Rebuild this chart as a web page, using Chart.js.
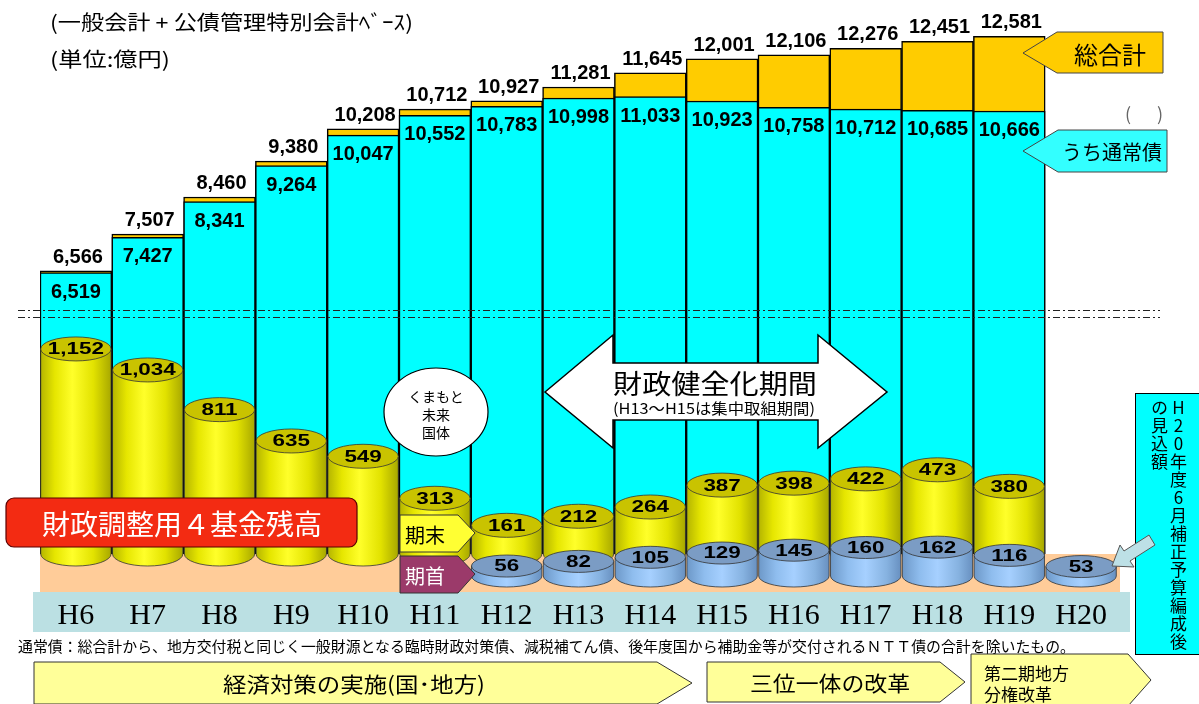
<!DOCTYPE html>
<html lang="ja">
<head>
<meta charset="utf-8">
<title>地方債残高と基金残高の推移</title>
<script src="https://cdn.jsdelivr.net/npm/chart.js@4.4.1/dist/chart.umd.min.js"></script>
<style>
  html, body { margin: 0; padding: 0; background: #fff; }
  #wrap { position: relative; width: 1199px; height: 704px; overflow: hidden; font-family: "Noto Sans CJK JP", sans-serif; }
  #chart, #overlay { position: absolute; left: 0; top: 0; }
  #vbox { position: absolute; left: 1135px; top: 393px; width: 70px; height: 262px; background: #00ffff; border: 1px solid #000; box-sizing: border-box; }
  #vtext { position: absolute; left: 1150px; top: 399px; width: 38px; height: 256px; writing-mode: vertical-rl; text-orientation: upright; font-size: 17px; line-height: 19px; letter-spacing: 1px; color: #000; }
</style>
</head>
<body>
<div id="wrap">
  <canvas id="chart" width="1199" height="704"></canvas>
  <div id="vbox"></div>
  <svg id="overlay" width="1199" height="704" font-family="Noto Sans CJK JP, sans-serif">
    <!-- 見出し -->
    <text x="50" y="21" font-size="20" dominant-baseline="central" textLength="363" lengthAdjust="spacingAndGlyphs">(一般会計 + 公債管理特別会計ﾍﾞｰｽ)</text>
    <text x="50" y="58" font-size="20" dominant-baseline="central" textLength="120" lengthAdjust="spacingAndGlyphs">(単位:億円)</text>

    <!-- 凡例の吹き出し -->
    <polygon points="1023,53 1057,32 1163,32 1163,73 1057,73" fill="#ffcc00" stroke="#444" stroke-width="1"/>
    <text x="1110" y="53" font-size="24" text-anchor="middle" dominant-baseline="central">総合計</text>
    <text x="1128" y="113" font-size="18" fill="#666" text-anchor="middle" dominant-baseline="central">(</text>
    <text x="1160" y="113" font-size="18" fill="#666" text-anchor="middle" dominant-baseline="central">)</text>
    <polygon points="1023,151 1058,130 1167,130 1167,172 1058,172" fill="#33ffff" stroke="#444" stroke-width="1"/>
    <text x="1112" y="151" font-size="20" text-anchor="middle" dominant-baseline="central">うち通常債</text>

    <!-- くまもと未来国体 -->
    <ellipse cx="436" cy="412" rx="52" ry="44" fill="#fff" stroke="#000" stroke-width="1.2"/>
    <text x="436" y="396" font-size="14" text-anchor="middle" dominant-baseline="central">くまもと</text>
    <text x="436" y="414" font-size="14" text-anchor="middle" dominant-baseline="central">未来</text>
    <text x="436" y="432" font-size="14" text-anchor="middle" dominant-baseline="central">国体</text>

    <!-- 財政健全化期間 -->
    <polygon points="545,392 613,335 613,363 818,363 818,335 887,392 818,448 818,420 613,420 613,448" fill="#fff" stroke="#000" stroke-width="1.5"/>
    <text x="715" y="382" font-size="27" text-anchor="middle" dominant-baseline="central" textLength="204" lengthAdjust="spacingAndGlyphs">財政健全化期間</text>
    <text x="714" y="407" font-size="15" text-anchor="middle" dominant-baseline="central" textLength="202" lengthAdjust="spacingAndGlyphs">(H13～H15は集中取組期間)</text>

    <!-- 財政調整用4基金残高 -->
    <rect x="6" y="498" width="351" height="49" rx="8" fill="#f32b12" stroke="#5a0000" stroke-width="1.2"/>
    <text x="182" y="523" font-size="28" fill="#fff" text-anchor="middle" dominant-baseline="central" textLength="280" lengthAdjust="spacingAndGlyphs">財政調整用４基金残高</text>

    <!-- 期末 / 期首 -->
    <polygon points="400,515 458,515 475,533 458,552 400,552" fill="#ffff33" stroke="#333" stroke-width="1"/>
    <text x="425" y="534" font-size="20" text-anchor="middle" dominant-baseline="central">期末</text>
    <polygon points="400,556 458,556 475,574 458,593 400,593" fill="#9b3a6a" stroke="#333" stroke-width="1"/>
    <text x="425" y="575" font-size="20" fill="#fff" text-anchor="middle" dominant-baseline="central">期首</text>

    <!-- H20 見込額への矢印 -->
    <polygon points="1155,545 1130,561 1134,567 1112,566 1120,545 1124,551 1149,535" fill="#bde0e6" stroke="#555" stroke-width="1"/>

    <!-- 注記 -->
    <text x="18" y="645" font-size="15" dominant-baseline="central" textLength="1057" lengthAdjust="spacingAndGlyphs">通常債：総合計から、地方交付税と同じく一般財源となる臨時財政対策債、減税補てん債、後年度国から補助金等が交付されるＮＴＴ債の合計を除いたもの。</text>

    <!-- 下部の期間矢印 -->
    <polygon points="34,662 657,662 692,683 657,704 34,704" fill="#ffff99" stroke="#333" stroke-width="1"/>
    <text x="354" y="683" font-size="21" text-anchor="middle" dominant-baseline="central" textLength="262" lengthAdjust="spacingAndGlyphs">経済対策の実施(国･地方)</text>
    <polygon points="707,662 940,662 965,682 940,702 707,702" fill="#ffff99" stroke="#333" stroke-width="1"/>
    <text x="830" y="682" font-size="21" text-anchor="middle" dominant-baseline="central" textLength="160" lengthAdjust="spacingAndGlyphs">三位一体の改革</text>
    <polygon points="971,654 1128,654 1151,680 1128,706 971,706" fill="#ffff99" stroke="#333" stroke-width="1"/>
    <text x="984" y="672" font-size="17" dominant-baseline="central">第二期地方</text>
    <text x="984" y="693" font-size="17" dominant-baseline="central">分権改革</text>
  </svg>
  <div id="vtext">H20年度6月補正予算編成後<br>の見込額</div>
</div>
<script>
// 年度
const years = ["H6", "H7", "H8", "H9", "H10", "H11", "H12", "H13", "H14", "H15", "H16", "H17", "H18", "H19", "H20"];

// 県債残高(億円)
const totalDebt = [6566, 7507, 8460, 9380, 10208, 10712, 10927, 11281, 11645, 12001, 12106, 12276, 12451, 12581, null];
const regularDebt = [6519, 7427, 8341, 9264, 10047, 10552, 10783, 10998, 11033, 10923, 10758, 10712, 10685, 10666, null];

// 財政調整用4基金残高(億円)
const fundEnd = [1152, 1034, 811, 635, 549, 313, 161, 212, 264, 387, 398, 422, 473, 380, null];
const fundStart = [null, null, null, null, null, null, 56, 82, 105, 129, 145, 160, 162, 116, 53];

// 軸の範囲（縦軸は省略表示）
const DEBT_MIN = -700;
const DEBT_MAX = 13000;
const FUND_MIN = 0;
const FUND_MAX = 3000;
const AXIS_BREAK = [5570, 5370];

const CYL_DEPTH = 22;
const CYL_RY = 12;

function drawCylinder(ctx, x, top, bottom, w, ry, body, cap) {
  const left = x - w / 2, right = x + w / 2;
  const g = ctx.createLinearGradient(left, 0, right, 0);
  body.forEach(function (s) { g.addColorStop(s[0], s[1]); });
  ctx.beginPath();
  ctx.moveTo(left, top);
  ctx.lineTo(left, bottom);
  ctx.ellipse(x, bottom, w / 2, ry, 0, Math.PI, 0, true);
  ctx.lineTo(right, top);
  ctx.closePath();
  ctx.fillStyle = g;
  ctx.fill();
  ctx.stroke();
  ctx.beginPath();
  ctx.ellipse(x, top, w / 2, ry, 0, 0, Math.PI * 2);
  ctx.fillStyle = cap;
  ctx.fill();
  ctx.stroke();
}

function drawStretched(ctx, text, x, y, sx) {
  ctx.save();
  ctx.translate(x, y);
  ctx.scale(sx, 1);
  ctx.fillText(text, 0, 0);
  ctx.restore();
}

const fmt = function (v) { return v.toLocaleString("en-US"); };

const decoPlugin = {
  id: "deco",
  beforeDraw(chart) {
    const ctx = chart.ctx;
    const a = chart.chartArea;
    ctx.save();
    // 基金の台
    ctx.fillStyle = "#ffcc99";
    ctx.fillRect(a.left, a.bottom, a.right - a.left + 3, 38);
    // 年度の帯
    ctx.fillStyle = "#bbe0e3";
    ctx.fillRect(a.left - 7, a.bottom + 38, a.right - a.left + 20, 40);
    ctx.restore();
  },
  afterDatasetsDraw(chart) {
    const ctx = chart.ctx;
    const y = chart.scales.y;
    ctx.save();

    // 省略線
    ctx.strokeStyle = "#222";
    ctx.lineWidth = 1;
    ctx.setLineDash([7, 3, 2, 3]);
    AXIS_BREAK.forEach(function (v) {
      const py = Math.round(y.getPixelForValue(v)) + 0.5;
      ctx.beginPath();
      ctx.moveTo(18, py);
      ctx.lineTo(1160, py);
      ctx.stroke();
    });
    ctx.setLineDash([]);

    // 棒の数値
    const totalMeta = chart.getDatasetMeta(1);
    const regMeta = chart.getDatasetMeta(0);
    ctx.fillStyle = "#000";
    ctx.font = "bold 20px 'Liberation Sans', Arial, sans-serif";
    ctx.textAlign = "center";
    ctx.textBaseline = "alphabetic";
    totalDebt.forEach(function (v, i) {
      if (v === null) return;
      const el = totalMeta.data[i];
      ctx.fillText(fmt(v), el.x + 2, el.y - 8);
    });
    regularDebt.forEach(function (v, i) {
      if (v === null) return;
      const el = regMeta.data[i];
      ctx.fillText(fmt(v), el.x, el.y + 25);
    });

    // 基金の円柱
    ctx.lineWidth = 0.8;
    ctx.strokeStyle = "#333";
    const endMeta = chart.getDatasetMeta(2);
    const startMeta = chart.getDatasetMeta(3);
    const yellow = [[0, "#b5b500"], [0.2, "#e6e600"], [0.45, "#ffff2a"], [0.75, "#e2e200"], [1, "#a8a800"]];
    const blue = [[0, "#6d98c8"], [0.25, "#8fbdee"], [0.5, "#a6d0ff"], [0.8, "#86b2e0"], [1, "#6890c0"]];
    fundEnd.forEach(function (v, i) {
      if (v === null) return;
      const el = endMeta.data[i];
      drawCylinder(ctx, el.x, el.y, el.base, el.width, CYL_RY, yellow, "#c9c300");
    });
    fundStart.forEach(function (v, i) {
      if (v === null) return;
      const el = startMeta.data[i];
      drawCylinder(ctx, el.x, el.y + CYL_DEPTH, el.base + CYL_DEPTH, el.width, 11, blue, "#7b9cc4");
    });

    ctx.fillStyle = "#000";
    ctx.font = "bold 16px 'Liberation Sans', Arial, sans-serif";
    ctx.textBaseline = "middle";
    fundEnd.forEach(function (v, i) {
      if (v === null) return;
      const el = endMeta.data[i];
      drawStretched(ctx, fmt(v), el.x, el.y + 1, 1.4);
    });
    fundStart.forEach(function (v, i) {
      if (v === null) return;
      const el = startMeta.data[i];
      drawStretched(ctx, fmt(v), el.x, el.y + CYL_DEPTH + 1, 1.4);
    });
    ctx.restore();
  }
};

const ctx = document.getElementById("chart").getContext("2d");
new Chart(ctx, {
  type: "bar",
  data: {
    labels: years,
    datasets: [
      {
        label: "うち通常債",
        data: regularDebt,
        backgroundColor: "#00ffff",
        borderColor: "#000",
        borderWidth: 1.5,
        base: DEBT_MIN,
        order: 1,
      },
      {
        label: "総合計",
        data: totalDebt,
        backgroundColor: "#ffcc00",
        borderColor: "#000",
        borderWidth: 1.5,
        base: DEBT_MIN,
        order: 2,
      },
      {
        label: "期末",
        data: fundEnd,
        yAxisID: "y2",
        backgroundColor: "transparent",
        borderWidth: 0,
        barPercentage: 0.98,
        order: 3,
      },
      {
        label: "期首",
        data: fundStart,
        yAxisID: "y2",
        backgroundColor: "transparent",
        borderWidth: 0,
        barPercentage: 0.98,
        order: 4,
      },
    ],
  },
  options: {
    responsive: false,
    animation: false,
    layout: { padding: { left: 40, right: 82, top: 20, bottom: 26 } },
    datasets: { bar: { barPercentage: 1, categoryPercentage: 1, grouped: false } },
    plugins: {
      legend: { display: false },
      tooltip: { enabled: false },
    },
    scales: {
      x: {
        grid: { display: false, drawTicks: false },
        border: { display: false },
        ticks: {
          color: "#000",
          padding: 44,
          font: { family: "'Liberation Serif', 'Times New Roman', serif", size: 30 },
        },
      },
      y: { display: false, min: DEBT_MIN, max: DEBT_MAX },
      y2: { display: false, min: FUND_MIN, max: FUND_MAX },
    },
  },
  plugins: [decoPlugin],
});
</script>
</body>
</html>
